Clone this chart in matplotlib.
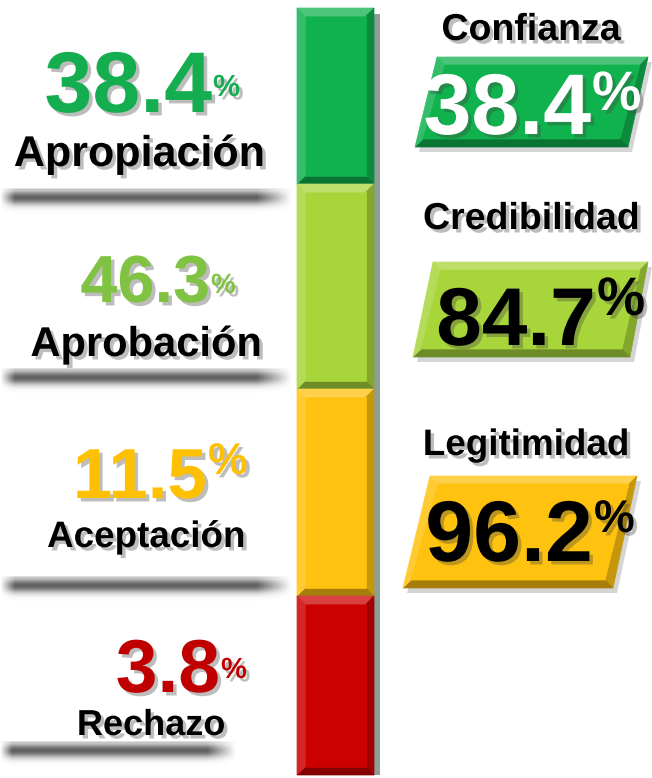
import numpy as np
import matplotlib
matplotlib.use("Agg")
import matplotlib.pyplot as plt
from matplotlib.patches import Polygon, Rectangle
import matplotlib.patheffects as pe
from matplotlib.colors import to_rgb

plt.rcParams['font.family'] = ['Liberation Sans', 'DejaVu Sans']

# Data
left_labels = ['Apropiación', 'Aprobación', 'Aceptación', 'Rechazo']
left_values = [38.4, 46.3, 11.5, 3.8]
left_text_colors = ['#14AE50', '#80C342', '#FFC000', '#C00000']
bar_colors = ['#10B24E', '#A8D63A', '#FFC20E', '#CC0000']

right_labels = ['Confianza', 'Credibilidad', 'Legitimidad']
right_values = [38.4, 84.7, 96.2]
right_box_colors = ['#10B24E', '#A8D63A', '#FFC20E']
right_text_colors = ['white', 'black', 'black']

# Layout (pixels, y grows downward)
W, H = 652, 778
bar_x0, bar_x1 = 297, 374
bar_edges = [8, 184, 389, 596, 775]
divider_y = [188, 368, 576, 741]
divider_x1 = [292, 292, 292, 236]

# left number: (right edge x, baseline y, size), % (size, baseline), label (center x, baseline, size)
left_num = [(212, 112, 62), (210, 302, 48), (207, 498, 51), (220, 692, 54)]
left_pct = [(22, 96), (20, 293), (32, 474), (21, 678)]
left_lab = [(139, 166, 31), (146, 356, 30), (146, 547, 26.5), (151, 735, 26)]

# right: title (center x, baseline, size), box corners TL, TR, BR, BL, number right x/baseline
right_title = [(531, 40, 27), (531, 229, 27), (526, 455, 26.5)]
right_box = [[(437, 57), (648, 57), (628, 147), (415, 147)],
             [(433, 262), (648, 262), (630, 357), (413, 357)],
             [(430, 476), (637, 476), (613, 588), (403, 588)]]
right_num = [(591, 134, 62), (596, 345, 59), (593, 561, 62)]
right_pct = [(40, 110), (39, 315), (33, 532)]


def mix(c, other, t):
    a, b = np.array(to_rgb(c)), np.array(to_rgb(other))
    return tuple(a * (1 - t) + b * t)


def bevel(ax, corners, color, w=7, z=3):
    tl, tr, br, bl = [np.array(p, float) for p in corners]
    itl, itr = tl + (w, w), tr + (-w, w)
    ibr, ibl = br + (-w, -w), bl + (w, -w)
    facets = [([tl, tr, itr, itl], mix(color, 'white', 0.25)),
              ([tr, br, ibr, itr], mix(color, 'black', 0.22)),
              ([br, bl, ibl, ibr], mix(color, 'black', 0.35)),
              ([bl, tl, itl, ibl], mix(color, 'white', 0.15)),
              ([itl, itr, ibr, ibl], color)]
    for pts, c in facets:
        ax.add_patch(Polygon(pts, closed=True, facecolor=c, edgecolor=c, lw=0.5, zorder=z))


def soft_shadow(ax, x0, x1, y0):
    h, w = 30, 300
    yy = np.arange(h)[:, None]
    xx = np.linspace(0, 1, w)[None, :]
    av = np.exp(-((yy - 9) / 7.0) ** 2) * 0.8
    av[1:3] = np.maximum(av[1:3], 0.3)
    ah = np.clip(xx / 0.05, 0, 1) * np.clip((1 - xx) / 0.12, 0, 1)
    img = np.zeros((h, w, 4))
    img[..., :3] = 0.22
    img[..., 3] = av * ah
    ax.imshow(img, extent=(x0, x1, y0 + h, y0), aspect='auto',
              interpolation='bilinear', zorder=1)


fig = plt.figure(figsize=(W / 100, H / 100), dpi=100)
ax = fig.add_axes([0, 0, 1, 1])
ax.set_axis_off()

shadow = [pe.withSimplePatchShadow(offset=(2.5, -2.5), shadow_rgbFace='#444444', alpha=0.35)]

# left column dividers
for y, x1 in zip(divider_y, divider_x1):
    soft_shadow(ax, 0, x1, y)

# vertical segmented bar
ax.add_patch(Rectangle((bar_x1, bar_edges[0] + 6), 6, bar_edges[-1] - bar_edges[0] - 6,
                       facecolor='#2f4f3f', alpha=0.55, lw=0, zorder=2))
for i, c in enumerate(bar_colors):
    y0, y1 = bar_edges[i], bar_edges[i + 1]
    bevel(ax, [(bar_x0, y0), (bar_x1, y0), (bar_x1, y1), (bar_x0, y1)], c, w=8)

# left numbers and labels
for i, lab in enumerate(left_labels):
    nx, ny, ns = left_num[i]
    ax.text(nx, ny, f"{left_values[i]:.1f}", color=left_text_colors[i], fontsize=ns,
            fontweight='bold', ha='right', va='baseline', path_effects=shadow, zorder=5)
    ps, py = left_pct[i]
    ax.text(nx + 1, py, '%', color=left_text_colors[i], fontsize=ps, fontweight='bold',
            ha='left', va='baseline', path_effects=shadow, zorder=5)
    lx, ly, ls = left_lab[i]
    ax.text(lx, ly, lab, color='black', fontsize=ls, fontweight='bold',
            ha='center', va='baseline', path_effects=shadow, zorder=5)

# right boxes
for i, lab in enumerate(right_labels):
    tx, ty, ts = right_title[i]
    ax.text(tx, ty, lab, color='black', fontsize=ts, fontweight='bold',
            ha='center', va='baseline', path_effects=shadow, zorder=5)
    pts = np.array(right_box[i], float)
    ax.add_patch(Polygon(pts + (4, 5), closed=True, facecolor='#888888', alpha=0.35,
                         lw=0, zorder=2))
    bevel(ax, right_box[i], right_box_colors[i], w=8)
    nx, ny, ns = right_num[i]
    ax.text(nx, ny, f"{right_values[i]:.1f}", color=right_text_colors[i], fontsize=ns,
            fontweight='bold', ha='right', va='baseline', path_effects=shadow, zorder=5)
    ps, py = right_pct[i]
    ax.text(nx + 1, py, '%', color=right_text_colors[i], fontsize=ps, fontweight='bold',
            ha='left', va='baseline', path_effects=shadow, zorder=5)

ax.set_xlim(0, W)
ax.set_ylim(H, 0)
fig.savefig("out.png", dpi=100, facecolor='white')
